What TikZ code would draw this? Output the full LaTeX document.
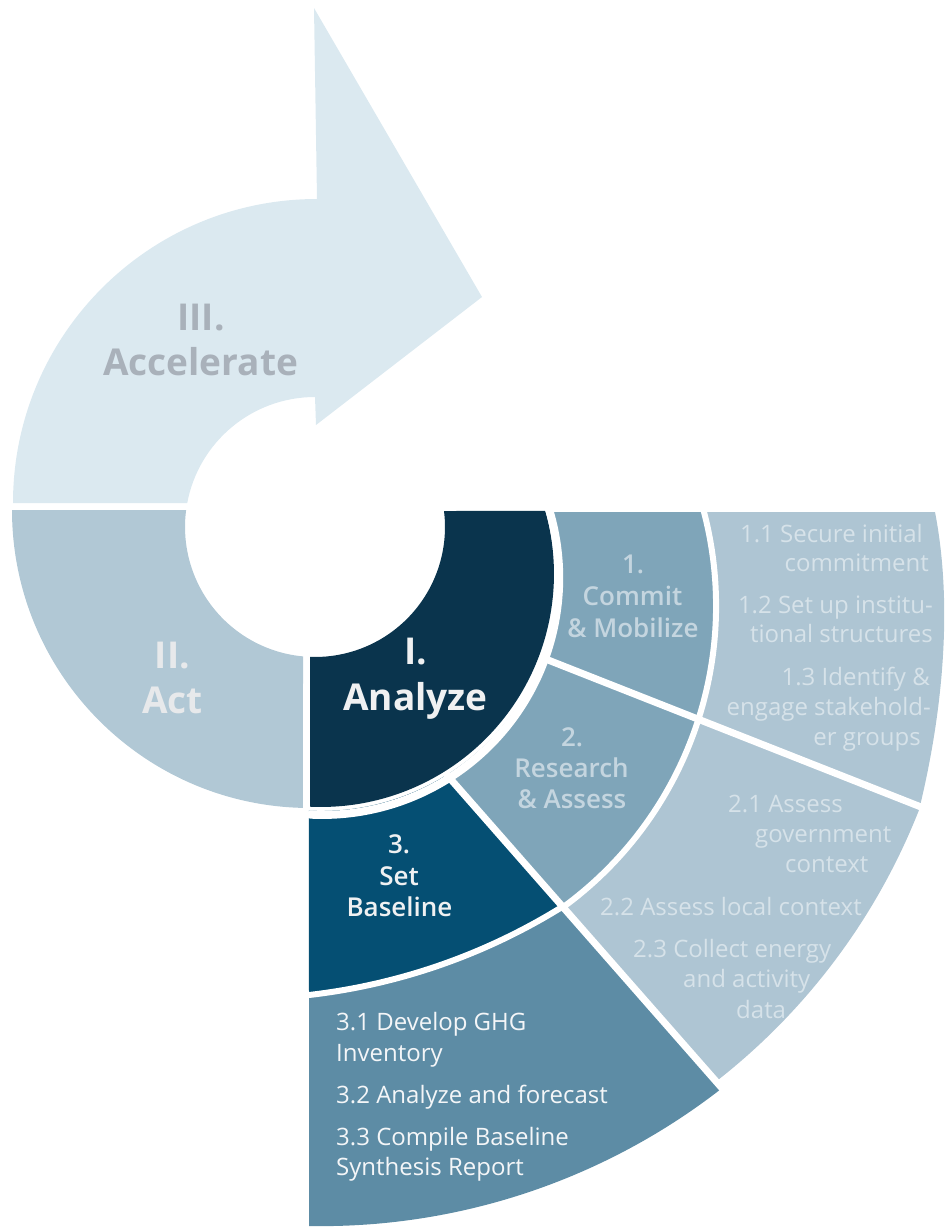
\documentclass[tikz,border=0pt]{standalone}
\usepackage{fontspec}
\setmainfont{Open Sans}
\newfontfamily\semibd{Open Sans Semibold}
\usepackage{tikz}

\definecolor{accfill}{HTML}{DBE9F0}
\definecolor{actfill}{HTML}{B1C8D5}
\definecolor{anafill}{HTML}{0A344D}
\definecolor{ringfill}{HTML}{7FA5B9}
\definecolor{panelfill}{HTML}{AEC5D3}
\definecolor{basefill}{HTML}{054F73}
\definecolor{subfill}{HTML}{5D8CA5}
\definecolor{acctext}{HTML}{A9B1BA}
\definecolor{acttext}{HTML}{E7E9EB}
\definecolor{anatext}{HTML}{F0F1F2}
\definecolor{ringtext}{HTML}{C4D5DF}
\definecolor{paneltext}{HTML}{D6E2E9}
\definecolor{subtext}{HTML}{F4F6F8}

\tikzset{
  phaselbl/.style={inner sep=0,anchor=base,font=\fontsize{37}{44}\selectfont\bfseries},
  stagelbl/.style={inner sep=0,anchor=base,font=\fontsize{26}{31}\selectfont\semibd},
  itemtxt/.style={inner sep=0,font=\fontsize{24}{30}\selectfont},
  sepline/.style={white,line width=7}
}

\begin{document}
\begin{tikzpicture}[line cap=round,line join=round,x=1pt,y=-1pt]
\useasboundingbox (0,0) rectangle (947,1227);
% III. Accelerate arrow
\fill[accfill] (13,503) arc[start angle=180,end angle=270,radius=304] -- (314,8) -- (482,297) -- (316,425) -- (315,397) arc[start angle=270,end angle=190.6,radius=130] -- cycle;
% II. Act
\fill[actfill] (12,510) arc[start angle=180,end angle=91.35,radius=298] -- (303,656.4) arc[start angle=95.3,end angle=187.5,radius=130] -- cycle;
% sub steps 1.x and 2.x
\fill[panelfill] (600,512) -- (935,512) .. controls (953,605) and (943,712) .. (919,810) arc[start angle=21.5,end angle=52.1,radius=643] -- (563,907) -- cycle;
% sub steps 3.x
\fill[subfill] (309,960) -- (309,1226) arc[start angle=91.05,end angle=52,radius=652] -- (563,907) -- cycle;
% steps 1. and 2.
\fill[ringfill] (549.7,512) -- (704,512) arc[start angle=-14.6,end angle=53.8,radius=373] -- (446.8,774.8) arc[start angle=57.9,end angle=-15.2,radius=237] -- cycle;
% step 3.
\fill[basefill] (446.8,774.8) arc[start angle=57.9,end angle=92.9,radius=237] -- (309,995) arc[start angle=83.46,end angle=58.17,radius=612] -- cycle;
% I. Analyze
\fill[anafill] (310,656.9) -- (310,806.7) arc[start angle=92.7,end angle=-15.7,radius=233] -- (444,511) arc[start angle=-7.07,end angle=92.2,radius=130] -- cycle;
% white gaps
\draw[sepline,line width=8] (547.6,504.7) arc[start angle=-18,end angle=92.9,radius=237];
\draw[sepline,line width=6] (701.6,503.2) arc[start angle=-16,end angle=53.8,radius=373];
\draw[sepline] (446.8,774.8) -- (728,1095);
\draw[sepline] (543,658) -- (935,812.5);
\draw[sepline,line width=6] (309,995) arc[start angle=83.46,end angle=58.17,radius=612];

% phase labels
\node[phaselbl,acctext] (acc1) at (201,330) {III.};
\node[phaselbl,acctext] (acc2) at (200.5,375) {Accelerate};
\node[phaselbl,acttext] (act1) at (172.5,668) {II.};
\node[phaselbl,acttext] (act2) at (172.5,713) {Act};
\node[phaselbl,anatext] (ana1) at (416,664) {I.};
\node[phaselbl,anatext] (ana2) at (415.5,710) {Analyze};
% step labels
\node[stagelbl,ringtext] (com1) at (633,573) {1.};
\node[stagelbl,ringtext] (com2) at (632.5,605) {Commit};
\node[stagelbl,ringtext] (com3) at (633,637) {\& Mobilize};
\node[stagelbl,ringtext] (res1) at (572,746) {2.};
\node[stagelbl,ringtext] (res2) at (571.5,777) {Research};
\node[stagelbl,ringtext] (res3) at (572,808) {\& Assess};
\node[stagelbl,anatext] (bas1) at (399,853) {3.};
\node[stagelbl,anatext] (bas2) at (399,885) {Set};
\node[stagelbl,anatext] (bas3) at (399.5,916) {Baseline};
% sub steps 1.x
\node[itemtxt,paneltext,anchor=base east] (s11a) at (923,542) {1.1 Secure initial};
\node[itemtxt,paneltext,anchor=base east] (s11b) at (929,571) {commitment};
\node[itemtxt,paneltext,anchor=base east] (s12a) at (933,613) {1.2 Set up institu-};
\node[itemtxt,paneltext,anchor=base east] (s12b) at (933,642) {tional structures};
\node[itemtxt,paneltext,anchor=base east] (s13a) at (930,685) {1.3 Identify \&};
\node[itemtxt,paneltext,anchor=base east] (s13b) at (931,715) {engage stakehold-};
\node[itemtxt,paneltext,anchor=base east] (s13c) at (921,745) {er groups};
% sub steps 2.x
\node[itemtxt,paneltext,anchor=base west] (s21a) at (728,812) {2.1 Assess};
\node[itemtxt,paneltext,anchor=base west] (s21b) at (755,842) {government};
\node[itemtxt,paneltext,anchor=base west] (s21c) at (785,872) {context};
\node[itemtxt,paneltext,anchor=base west] (s22a) at (600,915) {2.2 Assess local context};
\node[itemtxt,paneltext,anchor=base west] (s23a) at (633,957) {2.3 Collect energy};
\node[itemtxt,paneltext,anchor=base west] (s23b) at (683,987) {and activity};
\node[itemtxt,paneltext,anchor=base west] (s23c) at (736,1018) {data};
% sub steps 3.x
\node[itemtxt,subtext,anchor=base west] (s31a) at (336,1030) {3.1 Develop GHG};
\node[itemtxt,subtext,anchor=base west] (s31b) at (336,1061) {Inventory};
\node[itemtxt,subtext,anchor=base west] (s32a) at (336,1103) {3.2 Analyze and forecast};
\node[itemtxt,subtext,anchor=base west] (s33a) at (336,1145) {3.3 Compile Baseline};
\node[itemtxt,subtext,anchor=base west] (s33b) at (336,1175) {Synthesis Report};
\end{tikzpicture}
\end{document}
